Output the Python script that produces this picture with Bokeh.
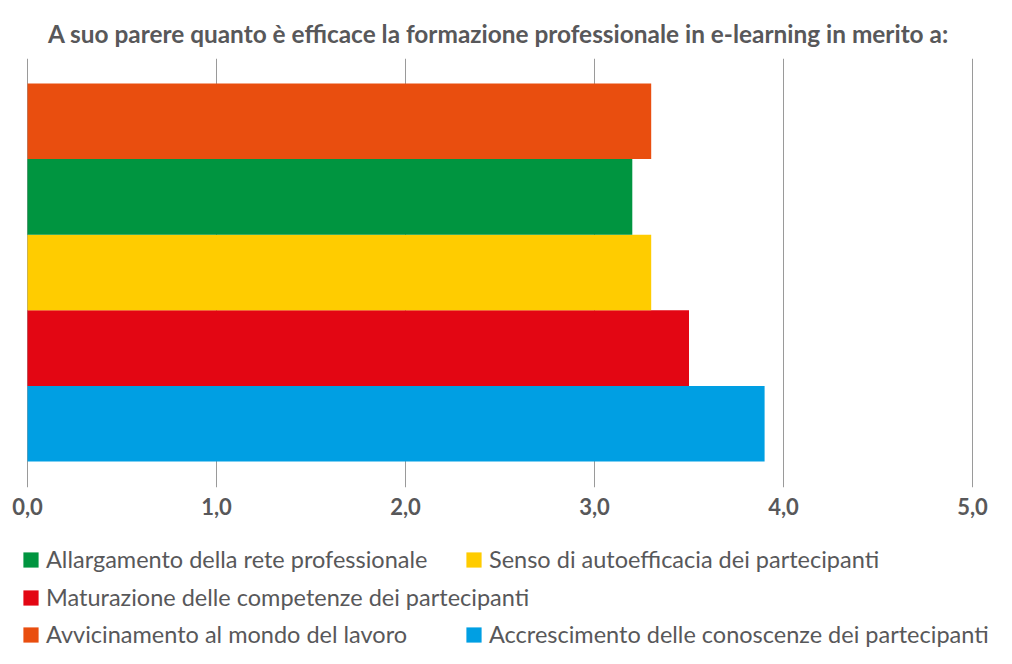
from bokeh.plotting import figure
from bokeh.layouts import column
from bokeh.models import ColumnDataSource, Range1d, FixedTicker, Legend, LegendItem
from bokeh.embed import file_html
from bokeh.resources import INLINE

title_text = "A suo parere quanto è efficace la formazione professionale in e-learning in merito a:"
categories = [
    "Accrescimento delle conoscenze dei partecipanti",
    "Maturazione delle competenze dei partecipanti",
    "Senso di autoefficacia dei partecipanti",
    "Allargamento della rete professionale",
    "Avvicinamento al mondo del lavoro",
]
values = [3.9, 3.5, 3.3, 3.2, 3.3]
colors = ["#009FE3", "#E30613", "#FFCC00", "#009540", "#E94E0F"]
tick_values = [0, 1, 2, 3, 4, 5]
tick_labels = ["0,0", "1,0", "2,0", "3,0", "4,0", "5,0"]

FONT = "Lato"
TXT = "#58585A"
W = 996
X0 = 27      # pixel of value 0
PXU = 189    # pixels per unit

src = ColumnDataSource(dict(y=list(range(len(categories))), v=values, c=colors, name=categories))

# ---------- main chart ----------
p = figure(width=W, height=530, output_backend="svg", toolbar_location=None,
           x_range=Range1d(-X0 / PXU, (W - X0) / PXU),
           y_range=Range1d(-0.5 - 0.344, 4.5 + 0.331),
           min_border_left=0, min_border_right=0,
           min_border_top=58, min_border_bottom=43)
p.outline_line_color = None

p.title.text = title_text
p.title.align = "center"
p.title.text_font = FONT
p.title.text_font_size = "24.4px"
p.title.text_font_style = "bold"
p.title.text_color = TXT
p.title.standoff = 22

r = p.hbar(y="y", left=0, right="v", height=1.0, fill_color="c", line_color=None, source=src)

p.yaxis.visible = False
p.ygrid.visible = False
p.xgrid.ticker = FixedTicker(ticks=tick_values)
p.xgrid.grid_line_color = "#9A9A9A"
p.xgrid.grid_line_width = 1
p.xaxis.ticker = FixedTicker(ticks=tick_values)
p.xaxis.major_label_overrides = {t: l for t, l in zip(tick_values, tick_labels)}
p.xaxis.axis_line_color = None
p.xaxis.major_tick_line_color = None
p.xaxis.minor_tick_line_color = None
p.xaxis.major_label_text_font = FONT
p.xaxis.major_label_text_font_size = "22px"
p.xaxis.major_label_text_font_style = "bold"
p.xaxis.major_label_text_color = TXT
p.xaxis.major_label_standoff = 4

# ---------- legend panel ----------
lh = 118
q = figure(width=W, height=lh, output_backend="svg", toolbar_location=None,
           x_range=Range1d(100, 101), y_range=Range1d(100, 101),
           x_axis_location=None, y_axis_location=None,
           min_border_left=0, min_border_right=0, min_border_top=0, min_border_bottom=0)
q.outline_line_color = None
q.xgrid.visible = False
q.ygrid.visible = False
rq = q.hbar(y="y", left=0, right="v", height=1.0, fill_color="c", line_color=None, source=src)

# (category index, left x of swatch, bottom of row measured up from panel bottom)
legend_slots = [(3, 21, 75), (2, 464, 75), (1, 21, 37), (4, 21, 0), (0, 464, 0)]
for idx, lx, ly in legend_slots:
    lg = Legend(items=[LegendItem(label=categories[idx], renderers=[rq], index=idx)],
                location=(lx, ly), orientation="horizontal",
                glyph_width=19, glyph_height=19, label_height=19,
                label_standoff=6, padding=0, margin=0, spacing=0,
                border_line_color=None, background_fill_alpha=0,
                label_text_font=FONT, label_text_font_size="23.5px",
                label_text_color=TXT)
    q.add_layout(lg, "center")

layout = column(p, q, spacing=0)
open("out.html", "w").write(file_html(layout, INLINE))
